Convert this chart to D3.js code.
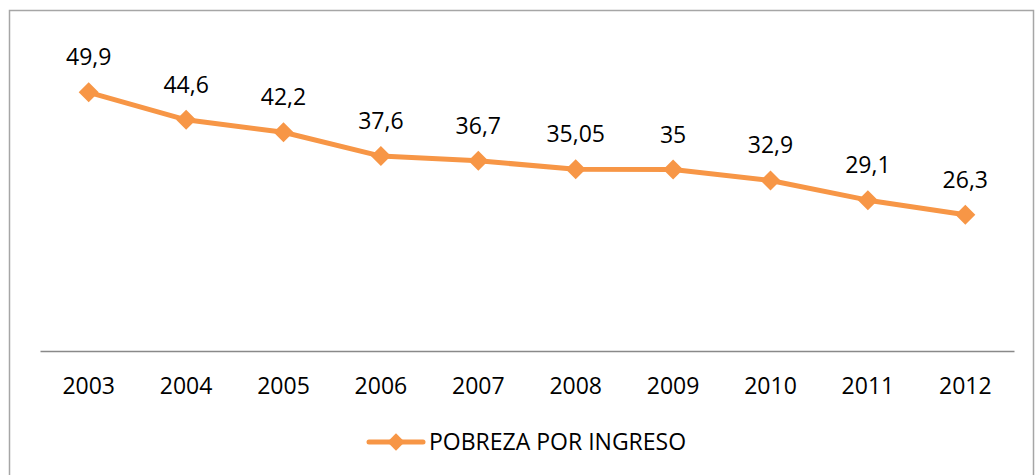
<!DOCTYPE html>
<html>
<head>
<meta charset="utf-8">
<script src="https://cdn.jsdelivr.net/npm/d3@7"></script>
<style>
  body { margin: 0; background: #fff; }
  svg { display: block; font-family: "Open Sans", sans-serif; }
</style>
</head>
<body>
<svg id="chart"></svg>
<script>
const years = ["2003", "2004", "2005", "2006", "2007", "2008", "2009", "2010", "2011", "2012"];
const pobreza = [49.9, 44.6, 42.2, 37.6, 36.7, 35.05, 35, 32.9, 29.1, 26.3];
const labels = ["49,9", "44,6", "42,2", "37,6", "36,7", "35,05", "35", "32,9", "29,1", "26,3"];
const seriesName = "POBREZA POR INGRESO";

const width = 1036, height = 475;
const margin = { top: 40, right: 22, bottom: 124, left: 40 };
const orange = "#F79646";
const fontSize = 23;

const svg = d3.select("#chart").attr("width", width).attr("height", height);

// chart border
svg.append("rect")
  .attr("x", 9.5).attr("y", 10.5)
  .attr("width", 1024).attr("height", 480)
  .attr("fill", "none").attr("stroke", "#a6a6a6").attr("stroke-width", 1.5);

const x = d3.scaleBand()
  .domain(years)
  .range([margin.left, width - margin.right]);

const y = d3.scaleLinear()
  .domain([0, 60])
  .range([height - margin.bottom, margin.top]);

// x axis
const xAxis = svg.append("g")
  .attr("transform", `translate(0, ${y(0)})`)
  .call(d3.axisBottom(x).tickSize(0).tickPadding(27));
xAxis.select(".domain").attr("stroke", "#898989").attr("stroke-width", 1.5);
xAxis.selectAll("text")
  .attr("font-size", fontSize)
  .attr("font-family", "'Open Sans', sans-serif")
  .attr("fill", "#000");

const pts = years.map((yr, i) => ({ year: yr, value: pobreza[i], label: labels[i] }));
const cx = (d) => x(d.year) + x.bandwidth() / 2;

const line = d3.line().x(cx).y((d) => y(d.value));

svg.append("path")
  .datum(pts)
  .attr("fill", "none")
  .attr("stroke", orange)
  .attr("stroke-width", 5)
  .attr("stroke-linejoin", "round")
  .attr("d", line);

const diamond = d3.symbol().type(d3.symbolSquare).size(200);

svg.append("g")
  .selectAll("path")
  .data(pts)
  .join("path")
  .attr("d", diamond)
  .attr("transform", (d) => `translate(${cx(d)}, ${y(d.value)}) rotate(45)`)
  .attr("fill", orange);

// data labels
svg.append("g")
  .selectAll("text")
  .data(pts)
  .join("text")
  .attr("x", cx)
  .attr("y", (d) => y(d.value) - 27)
  .attr("text-anchor", "middle")
  .attr("font-size", fontSize)
  .attr("fill", "#000")
  .text((d) => d.label);

// legend
const legend = svg.append("g").attr("transform", "translate(369, 442)");
legend.append("line")
  .attr("x1", 0).attr("x2", 54)
  .attr("stroke", orange).attr("stroke-width", 5).attr("stroke-linecap", "round");
legend.append("path")
  .attr("d", d3.symbol().type(d3.symbolSquare).size(150))
  .attr("transform", "translate(27, 0) rotate(45)")
  .attr("fill", orange);
legend.append("text")
  .attr("x", 60).attr("dy", "0.35em")
  .attr("font-size", fontSize)
  .attr("fill", "#000")
  .text(seriesName);
</script>
</body>
</html>
